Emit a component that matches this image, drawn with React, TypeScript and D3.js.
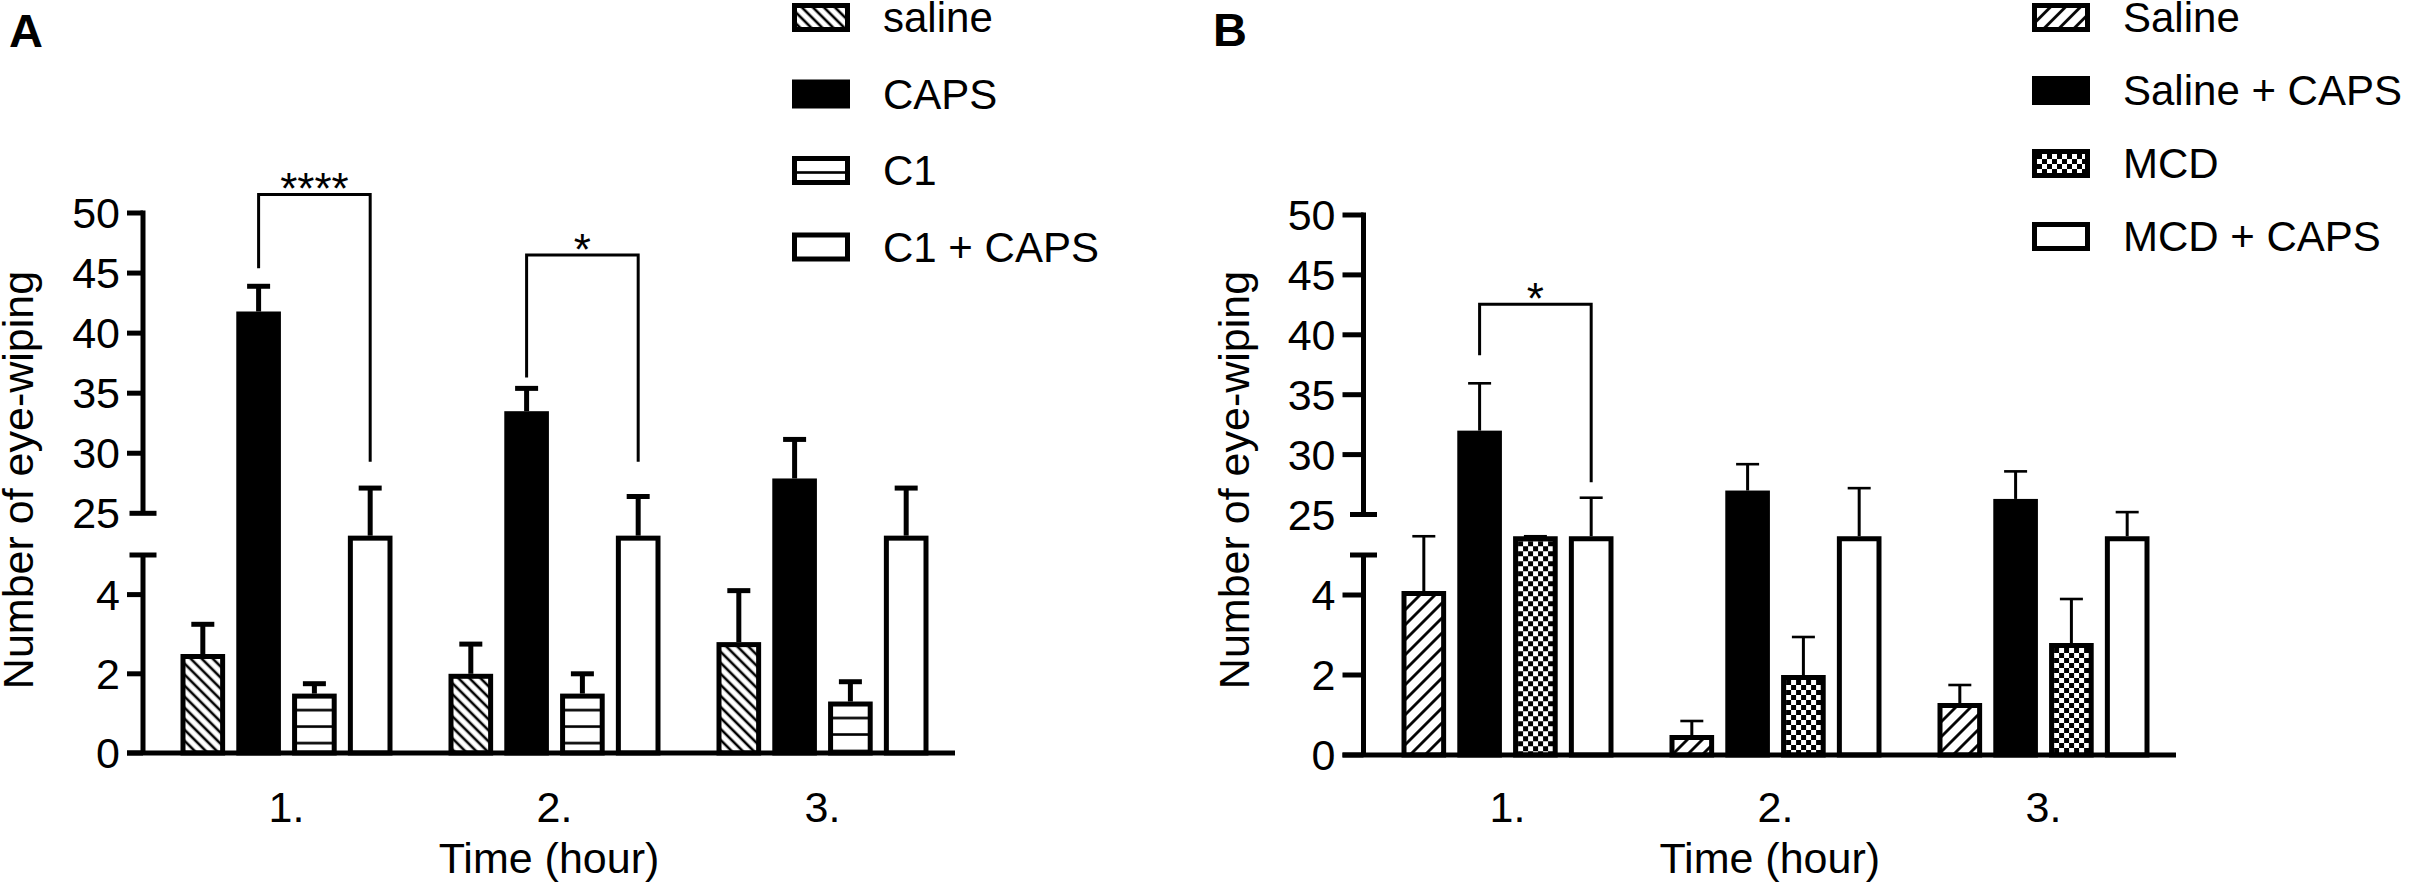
import React from "react";
import * as d3 from "d3";

// ---------- data ----------
const hours = ["1.", "2.", "3."];

// Panel A
const seriesA = ["saline", "CAPS", "C1", "C1 + CAPS"];
const salineA = [2.5, 2.0, 2.8];
const salineAErr = [0.75, 0.75, 1.3];
const capsA = [41.8, 33.5, 27.9];
const capsAErr = [2.1, 1.9, 3.25];
const c1A = [1.5, 1.5, 1.3];
const c1AErr = [0.25, 0.5, 0.5];
const c1CapsA = [21, 21, 21];
const c1CapsAErr = [6.1, 5.4, 6.1];

// Panel B
const seriesB = ["Saline", "Saline + CAPS", "MCD", "MCD + CAPS"];
const salineB = [4.1, 0.5, 1.3];
const salineBErr = [2.0, 0.35, 0.45];
const salineCapsB = [32.0, 27.0, 26.3];
const salineCapsBErr = [3.95, 2.2, 2.3];
const mcdB = [12, 2.0, 2.8];
const mcdBErr = [3, 0.95, 1.1];
const mcdCapsB = [20, 20, 20];
const mcdCapsBErr = [6.4, 7.2, 5.2];

const lowerTicks = [0, 2, 4];
const upperTicks = [25, 30, 35, 40, 45, 50];

const bracketsA = [
  { hour: 0, from: 1, to: 3, top: 51.55, left: 45.4, right: 29.3, label: "****" },
  { hour: 1, from: 1, to: 3, top: 46.5, left: 36.3, right: 29.3, label: "*" },
];
const bracketsB = [
  { hour: 0, from: 1, to: 3, top: 42.55, left: 38.3, right: 27.7, label: "*" },
];

const yTitle = "Number of eye-wiping";
const xTitle = "Time (hour)";

const FONT = "'Liberation Sans', Arial, Helvetica, sans-serif";

type Cfg = {
  letter: string;
  letterX: number;
  letterY: number;
  axisX: number;
  xStart: number;
  xEnd: number;
  axisEnd: number;
  tickLen: number;
  y0: number;
  y5: number;
  y25: number;
  y50: number;
  errW: number;
  capW: number;
  swatchX: number;
  textX: number;
  legTop: number;
  legBottom: number;
  titleX: number;
};

const cfgA: Cfg = {
  letter: "A", letterX: 9, letterY: 47,
  axisX: 143, xStart: 152.5, xEnd: 956.5, axisEnd: 955, tickLen: 16,
  y0: 753, y5: 555, y25: 513.3, y50: 213,
  errW: 5, capW: 5,
  swatchX: 792, textX: 883, legTop: 17.5, legBottom: 247,
  titleX: 33,
};
const cfgB: Cfg = {
  letter: "B", letterX: 1213, letterY: 46,
  axisX: 1363.5, xStart: 1373.5, xEnd: 2177.5, axisEnd: 2176, tickLen: 21,
  y0: 755, y5: 555, y25: 514.5, y50: 215,
  errW: 3, capW: 2.6,
  swatchX: 2032, textX: 2123, legTop: 17.5, legBottom: 236.5,
  titleX: 1249,
};

type Bracket = { hour: number; from: number; to: number; top: number; left: number; right: number; label: string };

function Panel({ cfg, series, values, errors, fills, brackets }: {
  cfg: Cfg; series: string[]; values: number[][]; errors: number[][]; fills: string[]; brackets: Bracket[];
}) {
  const x0 = d3.scaleBand<string>().domain(hours).range([cfg.xStart, cfg.xEnd]).paddingInner(0).paddingOuter(0);
  const x1 = d3.scaleBand<string>().domain(series).range([28, 240]).paddingInner(0.2).paddingOuter(0);
  const lower = d3.scaleLinear().domain([0, 5]).range([cfg.y0, cfg.y5]);
  const upper = d3.scaleLinear().domain([25, 50]).range([cfg.y25, cfg.y50]);
  const gapMid = (cfg.y5 + cfg.y25) / 2 + 1.5;
  const y = (v: number) => (v <= 5 ? lower(v) : v >= 25 ? upper(v) : gapMid);
  const bw = x1.bandwidth();
  const sw = 5;
  const legY = d3.scalePoint<string>().domain(series).range([cfg.legTop, cfg.legBottom]);
  const cx = (h: number, s: number) => (x0(hours[h]) as number) + (x1(series[s]) as number) + bw / 2;

  return (
    <g>
      <text x={cfg.letterX} y={cfg.letterY} fontSize={47} fontWeight="bold" fontFamily={FONT}>{cfg.letter}</text>

      {/* bars */}
      {series.map((s, si) =>
        hours.map((h, hi) => {
          const v = values[si][hi];
          const bx = (x0(h) as number) + (x1(s) as number);
          const top = y(v);
          const hgt = cfg.y0 - top;
          return (
            <g key={s + h} transform={`translate(${bx},${top})`}>
              <rect x={sw / 2} y={sw / 2} width={bw - sw} height={Math.max(0, hgt - sw / 2)}
                fill={fills[si]} stroke="black" strokeWidth={sw} />
            </g>
          );
        })
      )}

      {/* error bars */}
      {series.map((s, si) =>
        hours.map((h, hi) => {
          const v = values[si][hi];
          const e = errors[si][hi];
          const c = cx(hi, si);
          const yt = y(v + e);
          return (
            <g key={"e" + s + h} stroke="black">
              <line x1={c} x2={c} y1={y(v)} y2={yt} strokeWidth={cfg.errW} />
              <line x1={c - 11.5} x2={c + 11.5} y1={yt} y2={yt} strokeWidth={cfg.capW} />
            </g>
          );
        })
      )}

      {/* y axis */}
      <g stroke="black" strokeWidth={5}>
        <line x1={cfg.axisX} x2={cfg.axisX} y1={cfg.y50 - 2.5} y2={cfg.y25} />
        <line x1={cfg.axisX} x2={cfg.axisX} y1={cfg.y5} y2={cfg.y0} />
        {upperTicks.map((t) =>
          t === 25 ? (
            <line key={"u" + t} x1={cfg.axisX - 13.5} x2={cfg.axisX + 13.5} y1={upper(t)} y2={upper(t)} />
          ) : (
            <line key={"u" + t} x1={cfg.axisX - cfg.tickLen} x2={cfg.axisX} y1={upper(t)} y2={upper(t)} />
          )
        )}
        <line x1={cfg.axisX - 13.5} x2={cfg.axisX + 13.5} y1={lower(5)} y2={lower(5)} />
        {lowerTicks.map((t) => (
          <line key={"l" + t} x1={cfg.axisX - cfg.tickLen} x2={cfg.axisX} y1={lower(t)} y2={lower(t)} />
        ))}
        {/* x axis */}
        <line x1={cfg.axisX - cfg.tickLen} x2={cfg.axisEnd} y1={cfg.y0} y2={cfg.y0} />
      </g>
      <g fontFamily={FONT} fontSize={43} textAnchor="end">
        {upperTicks.map((t) => (
          <text key={"ut" + t} x={cfg.axisX - cfg.tickLen - 7} y={upper(t) + 15}>{t}</text>
        ))}
        {lowerTicks.map((t) => (
          <text key={"lt" + t} x={cfg.axisX - cfg.tickLen - 7} y={lower(t) + 15}>{t}</text>
        ))}
      </g>

      {/* category labels */}
      <g fontFamily={FONT} fontSize={43} textAnchor="middle">
        {hours.map((h) => (
          <text key={"c" + h} x={(x0(h) as number) + x0.bandwidth() / 2} y={822}>{h}</text>
        ))}
        <text x={(cfg.axisX + cfg.axisEnd) / 2} y={873}>{xTitle}</text>
        <text transform={`translate(${cfg.titleX},480) rotate(-90)`}>{yTitle}</text>
      </g>

      {/* significance brackets */}
      {brackets.map((b, i) => {
        const xl = cx(b.hour, b.from);
        const xr = cx(b.hour, b.to);
        const yt = y(b.top);
        return (
          <g key={"b" + i}>
            <path d={`M${xl},${y(b.left)}V${yt}H${xr}V${y(b.right)}`} fill="none" stroke="black" strokeWidth={3} />
            <text x={(xl + xr) / 2} y={yt + 10} fontFamily={FONT} fontSize={44} textAnchor="middle">{b.label}</text>
          </g>
        );
      })}

      {/* legend */}
      {series.map((s, si) => {
        const cy = legY(s) as number;
        return (
          <g key={"lg" + s}>
            <g transform={`translate(${cfg.swatchX},${cy - 14.5})`}>
              <rect x={2.5} y={2.5} width={58 - 5} height={29 - 5} fill={fills[si]} stroke="black" strokeWidth={5} />
            </g>
            <text x={cfg.textX} y={cy + 14.5} fontFamily={FONT} fontSize={42}>{s}</text>
          </g>
        );
      })}
    </g>
  );
}

export default function App() {
  const valuesA = [salineA, capsA, c1A, c1CapsA];
  const errorsA = [salineAErr, capsAErr, c1AErr, c1CapsAErr];
  const valuesB = [salineB, salineCapsB, mcdB, mcdCapsB];
  const errorsB = [salineBErr, salineCapsBErr, mcdBErr, mcdCapsBErr];
  return (
    <svg width={2416} height={889} viewBox="0 0 2416 889"
      style={{ position: "absolute", left: 0, top: 0, background: "white" }}>
      <defs>
        <pattern id="diagBack" patternUnits="userSpaceOnUse" width={7.8} height={10} patternTransform="rotate(-45)">
          <rect width={7.8} height={10} fill="white" />
          <line x1={3.9} x2={3.9} y1={0} y2={10} stroke="black" strokeWidth={2.6} />
        </pattern>
        <pattern id="diagFwd" patternUnits="userSpaceOnUse" width={10.6} height={10} patternTransform="rotate(45)">
          <rect width={10.6} height={10} fill="white" />
          <line x1={5.3} x2={5.3} y1={0} y2={10} stroke="black" strokeWidth={2.8} />
        </pattern>
        <pattern id="hlines" patternUnits="userSpaceOnUse" x={0} y={-8.25} width={10} height={16.5}>
          <rect width={10} height={16.5} fill="white" />
          <line x1={0} x2={10} y1={8.25} y2={8.25} stroke="black" strokeWidth={2.6} />
        </pattern>
        <pattern id="checker" patternUnits="userSpaceOnUse" width={10} height={10}>
          <rect width={10} height={10} fill="white" />
          <rect x={0} y={0} width={5} height={5} fill="black" />
          <rect x={5} y={5} width={5} height={5} fill="black" />
        </pattern>
      </defs>
      <rect width={2416} height={889} fill="white" />
      <Panel cfg={cfgA} series={seriesA} values={valuesA} errors={errorsA}
        fills={["url(#diagBack)", "black", "url(#hlines)", "white"]} brackets={bracketsA} />
      <Panel cfg={cfgB} series={seriesB} values={valuesB} errors={errorsB}
        fills={["url(#diagFwd)", "black", "url(#checker)", "white"]} brackets={bracketsB} />
    </svg>
  );
}
